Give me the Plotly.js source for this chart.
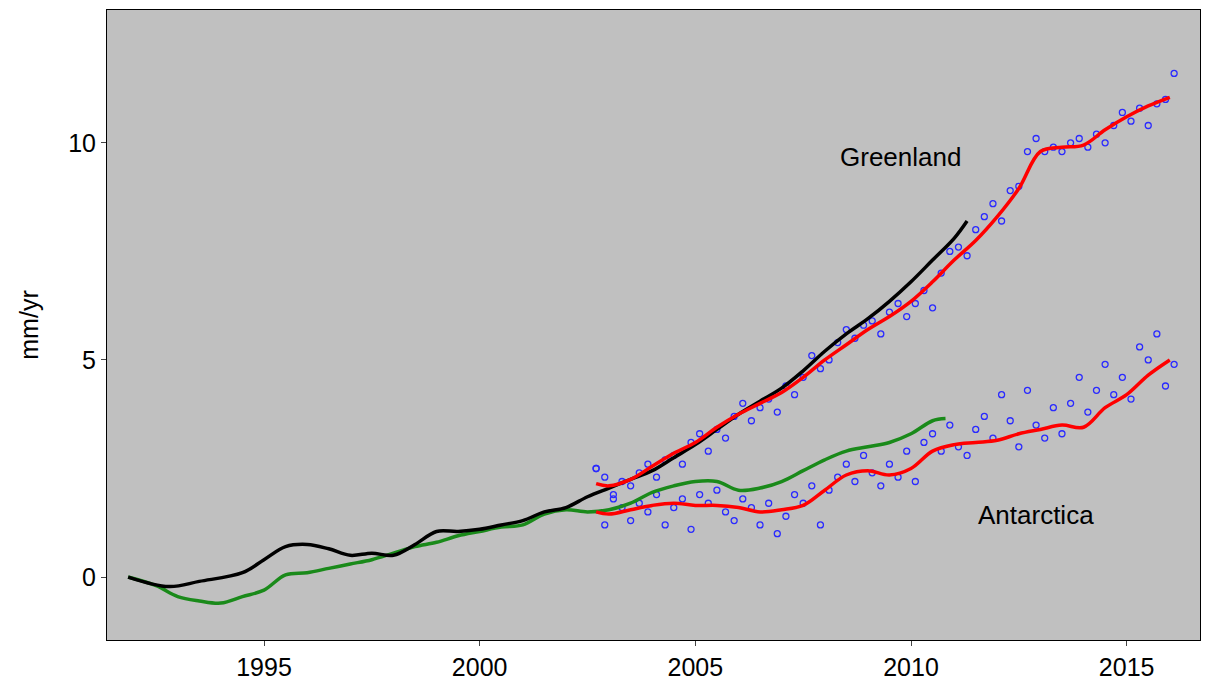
<!DOCTYPE html>
<html>
<head>
<meta charset="utf-8">
<script src="https://cdn.plot.ly/plotly-3.0.1.min.js"></script>
<style>body{margin:0;background:#fff}#chart{width:1208px;height:688px}</style>
</head>
<body>
<div id="chart"></div>
<script>
// black: Greenland reconstruction
const black_x = [1991.85,1992.8,1993.5,1994.5,1995.0,1995.5,1996.0,1996.5,1997.0,1997.5,1998.0,1998.5,1999.0,1999.5,2000.0,2000.5,2001.0,2001.5,2002.0,2002.5,2003.0,2003.5,2004.0,2004.5,2005.0,2005.5,2006.0,2006.5,2007.0,2007.5,2008.0,2008.5,2009.0,2009.5,2010.0,2010.5,2011.0,2011.3];
const black_y = [0,-0.22,-0.1,0.1,0.4,0.7,0.75,0.65,0.5,0.55,0.5,0.75,1.05,1.05,1.1,1.2,1.3,1.5,1.6,1.85,2.05,2.25,2.45,2.75,3.05,3.4,3.75,4.05,4.35,4.75,5.2,5.6,5.95,6.35,6.8,7.3,7.8,8.2];

// green: Antarctica reconstruction
const green_x = [1991.85,1992.5,1993.0,1993.5,1994.0,1994.5,1995.0,1995.5,1996.0,1996.5,1997.0,1997.5,1998.0,1998.5,1999.0,1999.5,2000.0,2000.5,2001.0,2001.5,2002.0,2002.5,2003.0,2003.5,2004.0,2004.5,2005.0,2005.5,2006.0,2006.5,2007.0,2007.5,2008.0,2008.5,2009.0,2009.5,2010.0,2010.5,2010.8];
const green_y = [0,-0.2,-0.45,-0.55,-0.6,-0.45,-0.3,0.05,0.1,0.2,0.3,0.4,0.55,0.7,0.8,0.95,1.05,1.15,1.2,1.45,1.55,1.5,1.55,1.7,1.95,2.1,2.2,2.2,2.0,2.05,2.2,2.45,2.7,2.9,3.0,3.1,3.3,3.6,3.65];

// red: smoothed GRACE
const red_x = [2002.7,2003.0,2003.5,2004.0,2004.5,2005.0,2005.5,2006.0,2006.5,2007.0,2007.5,2008.0,2008.5,2009.0,2009.5,2010.0,2010.5,2011.0,2011.5,2012.0,2012.5,2013.0,2013.5,2014.0,2014.5,2015.0,2015.5,2016.0];
const red_green_y = [2.15,2.1,2.25,2.55,2.85,3.1,3.45,3.75,4.0,4.25,4.6,5.0,5.35,5.7,6.0,6.35,6.8,7.3,7.75,8.3,8.95,9.8,9.9,9.95,10.3,10.6,10.85,11.05];
const red_ant_y = [1.5,1.45,1.55,1.65,1.7,1.65,1.65,1.6,1.5,1.55,1.65,2.0,2.35,2.45,2.35,2.5,2.9,3.05,3.1,3.15,3.3,3.4,3.5,3.45,3.9,4.2,4.65,5.0];

// blue: raw GRACE points
const blue_x = [2002.7,2002.9,2003.1,2003.3,2003.5,2003.7,2003.9,2004.1,2004.3,2004.5,2004.7,2004.9,2005.1,2005.3,2005.5,2005.7,2005.9,2006.1,2006.3,2006.5,2006.7,2006.9,2007.1,2007.3,2007.5,2007.7,2007.9,2008.1,2008.3,2008.5,2008.7,2008.9,2009.1,2009.3,2009.5,2009.7,2009.9,2010.1,2010.3,2010.5,2010.7,2010.9,2011.1,2011.3,2011.5,2011.7,2011.9,2012.1,2012.3,2012.5,2012.7,2012.9,2013.1,2013.3,2013.5,2013.7,2013.9,2014.1,2014.3,2014.5,2014.7,2014.9,2015.1,2015.3,2015.5,2015.7,2015.9,2016.1];
const blue_green_y = [2.5,2.3,1.9,2.2,2.1,2.4,2.6,2.3,2.7,2.8,2.6,3.1,3.3,2.9,3.4,3.2,3.7,4.0,3.6,3.9,4.1,3.8,4.4,4.2,4.6,5.1,4.8,5.0,5.4,5.7,5.5,5.8,5.9,5.6,6.1,6.3,6.0,6.3,6.6,6.2,7.0,7.5,7.6,7.4,8.0,8.3,8.6,8.2,8.9,9.0,9.8,10.1,9.8,9.9,9.8,10.0,10.1,9.9,10.2,10.0,10.4,10.7,10.5,10.8,10.4,10.9,11.0,11.6];
const blue_ant_y = [2.5,1.2,1.8,1.6,1.3,1.7,1.5,1.9,1.2,1.6,1.8,1.1,1.9,1.7,2.0,1.5,1.3,1.8,1.6,1.2,1.7,1.0,1.4,1.9,1.7,2.1,1.2,2.0,2.3,2.6,2.2,2.8,2.4,2.1,2.6,2.3,2.9,2.2,3.1,3.3,2.9,3.5,3.0,2.8,3.4,3.7,3.2,4.2,3.6,3.0,4.3,3.5,3.2,3.9,3.3,4.0,4.6,3.8,4.3,4.9,4.2,4.6,4.1,5.3,5.0,5.6,4.4,4.9];

const line = (x, y, color) => ({x: x, y: y, mode: 'lines', line: {color: color, width: 3.5, shape: 'spline'}, hoverinfo: 'skip'});
const dots = (x, y) => ({x: x, y: y, mode: 'markers', marker: {symbol: 'circle-open', size: 6, color: '#2a2aff', line: {width: 1.3}}});

const data = [
    dots(blue_x, blue_green_y),
    dots(blue_x, blue_ant_y),
    line(green_x, green_y, '#1a8a1a'),
    line(black_x, black_y, '#000000'),
    line(red_x, red_green_y, '#ff0000'),
    line(red_x, red_ant_y, '#ff0000'),
];

const axis_font = {family: 'Arial, Liberation Sans, sans-serif', size: 25, color: '#000'};
const layout = {
    width: 1208, height: 688,
    margin: {l: 107, r: 8, t: 10, b: 48},
    paper_bgcolor: '#fff',
    plot_bgcolor: '#c0c0c0',
    showlegend: false,
    xaxis: {range: [1991.36, 2016.7], tickvals: [1995, 2000, 2005, 2010, 2015], showgrid: false, zeroline: false,
        showline: true, mirror: true, linecolor: '#000', linewidth: 1, ticks: 'outside', ticklen: 5, tickfont: axis_font},
    yaxis: {range: [-1.45, 13.06], tickvals: [0, 5, 10], showgrid: false, zeroline: false,
        showline: true, mirror: true, linecolor: '#000', linewidth: 1, ticks: 'outside', ticklen: 5, tickfont: axis_font,
        title: {text: 'mm/yr', font: axis_font, standoff: 22}},
    annotations: [
        {x: 2009.75, y: 9.68, text: 'Greenland', showarrow: false, font: {family: 'Arial, Liberation Sans, sans-serif', size: 26, color: '#000'}},
        {x: 2012.9, y: 1.43, text: 'Antarctica', showarrow: false, font: {family: 'Arial, Liberation Sans, sans-serif', size: 26, color: '#000'}},
    ],
};

Plotly.newPlot('chart', data, layout, {displayModeBar: false});
</script>
</body>
</html>
